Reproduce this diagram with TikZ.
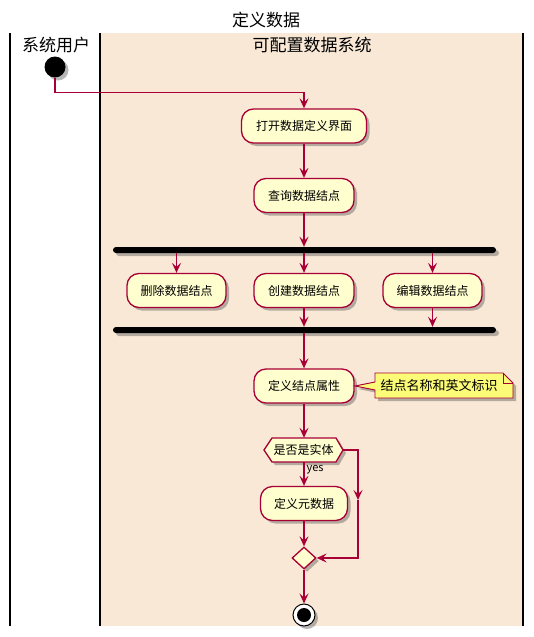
\documentclass[tikz,border=0pt]{standalone}
\usepackage{fontspec}
\newfontfamily\cjk{Noto Sans CJK SC}
\usetikzlibrary{arrows.meta,shadows,shapes.geometric}
\definecolor{puml}{HTML}{A80036}
\definecolor{actfill}{HTML}{FEFECE}
\definecolor{lanebg}{HTML}{F9E8D6}
\definecolor{notefill}{HTML}{FBFB77}
\tikzset{
  shad/.style={drop shadow={opacity=0.4,shadow xshift=3pt,shadow yshift=-3pt,fill=black!70}},
  act/.style={draw=puml,fill=actfill,line width=1.3pt,rounded corners=12pt,minimum height=34pt,inner xsep=0pt,font=\cjk\fontsize{12}{14}\selectfont,shad},
  flow/.style={draw=puml,line width=1.3pt,-{Stealth[length=10pt,width=9pt,inset=4pt]}},
  bar/.style={fill=black,rounded corners=3pt,minimum height=6pt,minimum width=383pt,inner sep=0pt,shad},
  lane/.style={line width=1.5pt,draw=black},
  head/.style={font=\cjk\fontsize{17}{20}\selectfont},
  small/.style={font=\cjk\fontsize{12}{14}\selectfont},
}
\begin{document}
\begin{tikzpicture}[x=1pt,y=-1pt]
\useasboundingbox (0,0) rectangle (533,637);
% swimlanes
\fill[lanebg] (100,33) rectangle (523,626);
\draw[lane] (10,33) -- (10,626);
\draw[lane] (100,33) -- (100,626);
\draw[lane] (523,33) -- (523,626);
\node[head] (title) at (266,20) {定义数据};
\node[head] (lane1) at (56,45) {系统用户};
\node[head] (lane2) at (312,45) {可配置数据系统};
% start
\node[circle,fill=black,minimum size=21pt,inner sep=0pt,shad] (start) at (55,67) {};
% activities
\node[act,minimum width=125pt] (a1) at (304,126) {打开数据定义界面};
\node[act,minimum width=100pt] (a2) at (304,195.5) {查询数据结点};
\node[bar] (fork) at (304.5,250) {};
\node[act,minimum width=99pt] (d1) at (176.5,290.5) {删除数据结点};
\node[act,minimum width=100pt] (d2) at (304,290.5) {创建数据结点};
\node[act,minimum width=99pt] (d3) at (432.5,290.5) {编辑数据结点};
\node[bar] (join) at (304.5,330) {};
\node[act,minimum width=100pt] (a3) at (304,386) {定义结点属性};
% note
\draw[draw=puml,fill=notefill,line width=0.9pt,shad]
  (375,373) -- (503,373) -- (513,383) -- (513,398) -- (375,398) -- (375,390)
  -- (355,386) -- (375,382) -- cycle;
\draw[draw=puml,line width=0.9pt] (503,373) -- (503,383) -- (513,383);
\node[font=\cjk\fontsize{13}{15}\selectfont] (note) at (439,386) {结点名称和英文标识};
% decision hexagon
\draw[draw=puml,fill=actfill,line width=1.3pt,shad]
  (264,450) -- (272,438) -- (336,438) -- (343,450) -- (336,462) -- (272,462) -- cycle;
\node[small,minimum width=79pt,minimum height=24pt,inner sep=0pt] (q) at (303.5,450) {是否是实体};
\node[act,minimum width=87pt] (a4) at (304,503.5) {定义元数据};
\node[diamond,draw=puml,fill=actfill,line width=1.3pt,minimum width=24pt,minimum height=22pt,inner sep=0pt,shad] (m) at (304,558) {};
% end
\node[circle,draw=black,fill=white,line width=1pt,minimum size=22pt,inner sep=0pt,shad] (end) at (304,615) {};
\node[circle,fill=black,minimum size=14pt,inner sep=0pt] (endin) at (304,615) {};
% connectors
\draw[flow] (start.south) -- ++(0,15) -| (a1.north);
\draw[flow] (a1) -- (a2);
\draw[flow] (a2.south) -- (fork.north -| a2.south);
\draw[flow] (fork.south -| d1.north) -- (d1.north);
\draw[flow] (fork.south -| d2.north) -- (d2.north);
\draw[flow] (fork.south -| d3.north) -- (d3.north);
\draw[flow] (d2.south) -- (join.north -| d2.south);
\draw[flow] (d3.south) -- (join.north -| d3.south);
\draw[flow] (join.south -| a3.north) -- (a3.north);
\draw[flow] (a3.south) -- (a3.south |- q.north);
\draw[flow] (a3.south |- q.south) -- (a4.north) node[pos=0.3,right,font=\fontsize{11}{13}\selectfont\cjk,inner sep=2pt] (yes) {yes};
\coordinate (br) at (358,500);
\draw[flow] (q.east) -| (br);
\draw[flow] (br) |- (m.east);
\draw[flow] (a4.south) -- (m.north);
\draw[flow] (m.south) -- (end.north);
\end{tikzpicture}
\end{document}
